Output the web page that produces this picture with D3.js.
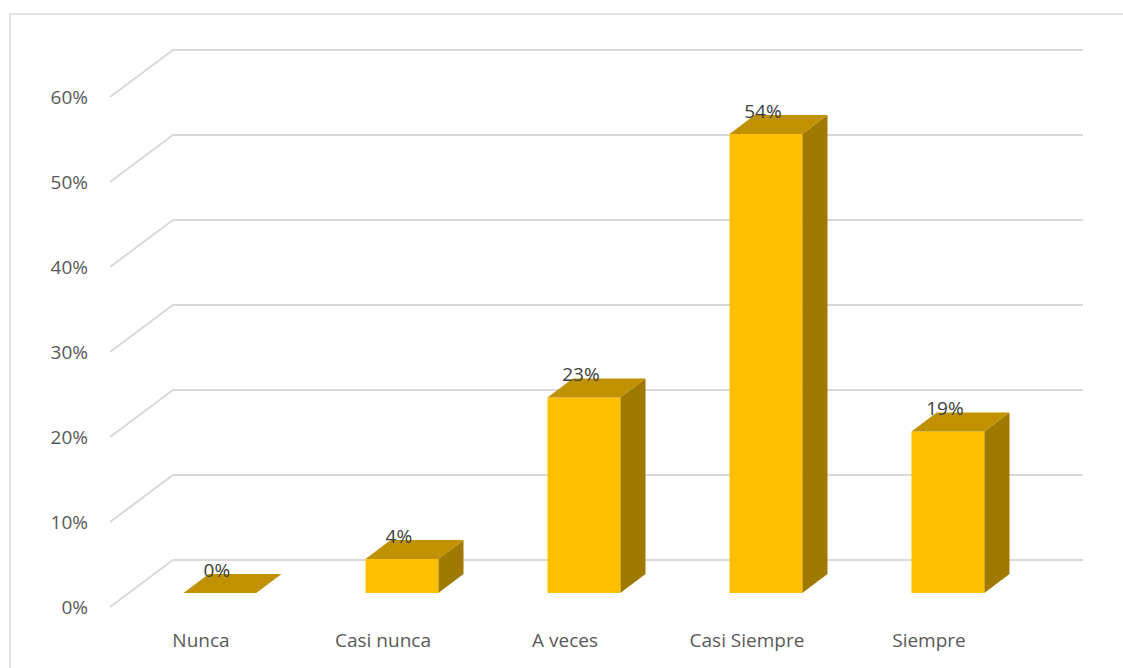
<!DOCTYPE html>
<html><head><meta charset="utf-8">
<script src="https://cdn.jsdelivr.net/npm/d3@7"></script>
<style>body{margin:0;background:#fff}svg{display:block}</style>
</head><body>
<svg id="c" width="1123" height="668"></svg>
<script>
const categories = ["Nunca","Casi nunca","A veces","Casi Siempre","Siempre"];
const values = [0, 0.04, 0.23, 0.54, 0.19];
const dataLabels = ["0%","4%","23%","54%","19%"];
const ticks = [0, 0.1, 0.2, 0.3, 0.4, 0.5, 0.6];

const svg = d3.select("#c");
const DX = 63, DY = -47;          // full depth offset (front -> back wall)
const zFront = 0.3, zBack = 0.7;  // bar depth span
const FONT = "'Open Sans', sans-serif";

const x = d3.scaleBand().domain(categories).range([110, 1020]).paddingInner(0).paddingOuter(0);
const y = d3.scaleLinear().domain([0, 0.6]).range([607, 97]);
const P = (px, v, z) => [px + DX*z, y(v) + DY*z];

// chart border
svg.append("rect").attr("x",10).attr("y",14).attr("width",1125).attr("height",670)
  .attr("fill","none").attr("stroke","#d9d9d9").attr("stroke-width",1.5);

// gridlines (side wall + back wall)
ticks.forEach(t=>{
  const a = P(110,t,0), b = P(110,t,1), c = [1083, y(t)+DY];
  svg.append("path").attr("d", `M${a}L${b}L${c}`)
    .attr("fill","none").attr("stroke","#d9d9d9").attr("stroke-width",2);
});

// y labels
svg.selectAll(".yl").data(ticks).join("text")
  .attr("x",88).attr("y",d=>y(d)).attr("dy","0.35em")
  .attr("text-anchor","end").attr("fill","#595959")
  .style("font-family",FONT).style("font-size","19px")
  .text(d=>d3.format(".0%")(d));

// bars
const bw = x.bandwidth()*0.4;
categories.forEach((cat,i)=>{
  const v = values[i];
  const cx = x(cat) + x.bandwidth()/2;
  const l = cx - bw/2, r = cx + bw/2;
  const fbl = P(l,0,zFront), fbr = P(r,0,zFront), ftl = P(l,v,zFront), ftr = P(r,v,zFront);
  const bbr = P(r,0,zBack), btl = P(l,v,zBack), btr = P(r,v,zBack);
  const g = svg.append("g");
  if (v > 0) {
    g.append("path").attr("d",`M${fbr}L${bbr}L${btr}L${ftr}Z`).attr("fill","#A07900");
    g.append("path").attr("d",`M${fbl}L${fbr}L${ftr}L${ftl}Z`).attr("fill","#FFC000");
  }
  g.append("path").attr("d",`M${ftl}L${ftr}L${btr}L${btl}Z`).attr("fill","#C09100");
  const lx = P(cx, v, zFront)[0] - 3, ly = P(cx, v, zBack)[1] - 4;
  svg.append("text").attr("x",lx).attr("y",ly).attr("dy","0.35em")
    .attr("text-anchor","middle").attr("fill","#404040")
    .style("font-family",FONT).style("font-size","19px")
    .text(dataLabels[i]);
});

// category labels
svg.selectAll(".xl").data(categories).join("text")
  .attr("x",d=>x(d)+x.bandwidth()/2).attr("y",640).attr("dy","0.35em")
  .attr("text-anchor","middle").attr("fill","#595959")
  .style("font-family",FONT).style("font-size","19px")
  .text(d=>d);
</script>
</body></html>
